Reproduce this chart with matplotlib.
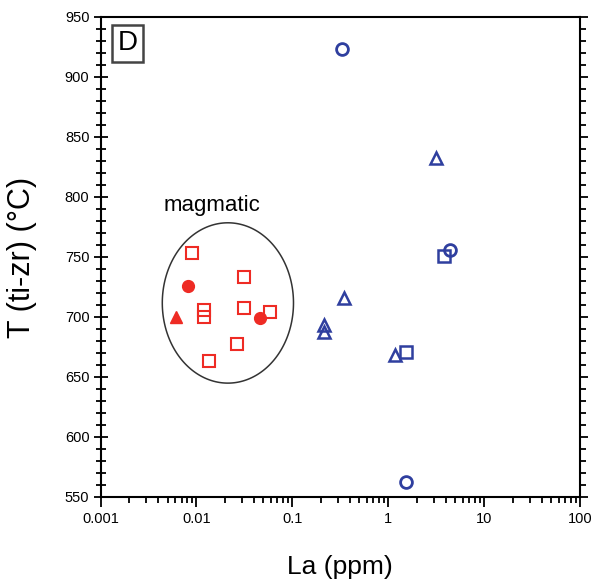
import numpy as np
import matplotlib
matplotlib.use('Agg')
import matplotlib.pyplot as plt
from matplotlib.patches import Polygon
from matplotlib.ticker import FixedLocator, FixedFormatter, MultipleLocator, LogLocator, NullFormatter

plt.rcParams['font.family'] = ['Liberation Sans', 'DejaVu Sans']

# data
# magmatic group (red)
red_sq_x = [0.0089, 0.012, 0.012, 0.0313, 0.0313, 0.0583, 0.0262, 0.0135]
red_sq_y = [753.6, 705.8, 700.2, 733.6, 707.2, 703.9, 677.5, 663.6]
red_circ_x = [0.0081, 0.0458]
red_circ_y = [725.8, 698.9]
red_tri_x = [0.0061]
red_tri_y = [700.2]

# other group (blue, open)
blue_circ_x = [0.33, 4.37, 1.52]
blue_circ_y = [923.1, 755.8, 562.75]
blue_tri_x = [3.12, 0.347, 0.213, 0.213, 1.19]
blue_tri_y = [832.3, 715.6, 693.3, 687.75, 668.3]
blue_sq_x = [3.78, 1.52]
blue_sq_y = [750.8, 671.1]

# field outline
ell_cx = 0.0213      # centre La
ell_cy = 711.7       # centre T
ell_half_dec = 0.684 # half width in log decades
ell_half_t = 66.8    # half height in degC

x_ticks = [0.001, 0.01, 0.1, 1, 10, 100]
x_ticklabels = ['0.001', '0.01', '0.1', '1', '10', '100']

red = '#ee2b24'
blue = '#2f3f9f'

fig = plt.figure(figsize=(5.94, 5.81), dpi=100)
ax = fig.add_axes([100.5/594, 1-497/581, 479.5/594, 480/581])

ax.set_xscale('log')
ax.set_xlim(0.001, 100)
ax.set_ylim(550, 950)

ax.plot(red_sq_x, red_sq_y, 's', ms=8, mfc='none', mec=red, mew=1.5, ls='none')
ax.plot(red_circ_x, red_circ_y, 'o', ms=8.5, color=red, ls='none')
ax.plot(red_tri_x, red_tri_y, '^', ms=8.5, color=red, ls='none')

ax.plot(blue_circ_x, blue_circ_y, 'o', ms=8.5, mfc='none', mec=blue, mew=2, ls='none')
ax.plot(blue_tri_x, blue_tri_y, '^', ms=8, mfc='none', mec=blue, mew=1.8, ls='none')
ax.plot(blue_sq_x, blue_sq_y, 's', ms=8.5, mfc='none', mec=blue, mew=1.8, ls='none')

t = np.linspace(0, 2*np.pi, 300, endpoint=False)
ex = 10**(np.log10(ell_cx) + ell_half_dec*np.cos(t))
ey = ell_cy + ell_half_t*np.sin(t)
ax.add_patch(Polygon(np.column_stack([ex, ey]), closed=True, fill=False,
                     ec='#333333', lw=1.1))

ax.text(0.0145, 793, 'magmatic', fontsize=16, ha='center', va='center')

ax.text(0.057, 0.945, 'D', transform=ax.transAxes, fontsize=20, ha='center', va='center',
        bbox=dict(boxstyle='square,pad=0.2', fc='white', ec='#444444', lw=1.8))

# axes cosmetics
for s in ax.spines.values():
    s.set_linewidth(1.5)

ax.xaxis.set_major_locator(FixedLocator(x_ticks))
ax.xaxis.set_major_formatter(FixedFormatter(x_ticklabels))
ax.xaxis.set_minor_locator(LogLocator(base=10, subs=np.arange(2, 10)))
ax.xaxis.set_minor_formatter(NullFormatter())
ax.yaxis.set_major_locator(MultipleLocator(50))
ax.yaxis.set_minor_locator(MultipleLocator(10))

ax.tick_params(axis='x', which='both', direction='out', top=False, labelsize=10.5, width=1.3)
ax.tick_params(axis='x', which='major', length=7, pad=4)
ax.tick_params(axis='x', which='minor', length=4)
ax.tick_params(axis='y', which='both', direction='inout', left=True, right=False, labelsize=10.5, width=1.3)
ax.tick_params(axis='y', which='major', length=10, pad=3)
ax.tick_params(axis='y', which='minor', length=7)

# right-hand axis ticks (outward, no labels)
ax2 = ax.twinx()
ax2.set_ylim(550, 950)
ax2.yaxis.set_major_locator(MultipleLocator(50))
ax2.yaxis.set_minor_locator(MultipleLocator(10))
ax2.tick_params(axis='y', which='both', direction='out', labelright=False, width=1.3)
ax2.tick_params(axis='y', which='major', length=6)
ax2.tick_params(axis='y', which='minor', length=4)
for s in ax2.spines.values():
    s.set_visible(False)

ax.set_xlabel('La (ppm)', fontsize=19)
ax.xaxis.set_label_coords(0.5, -0.146)
ax.xaxis.label.set_va('center')
ax.set_ylabel('T (ti-zr) (°C)', fontsize=22)
ax.yaxis.set_label_coords(-0.164, 0.5)
ax.yaxis.label.set_va('center')

fig.savefig('out.png', dpi=100)
